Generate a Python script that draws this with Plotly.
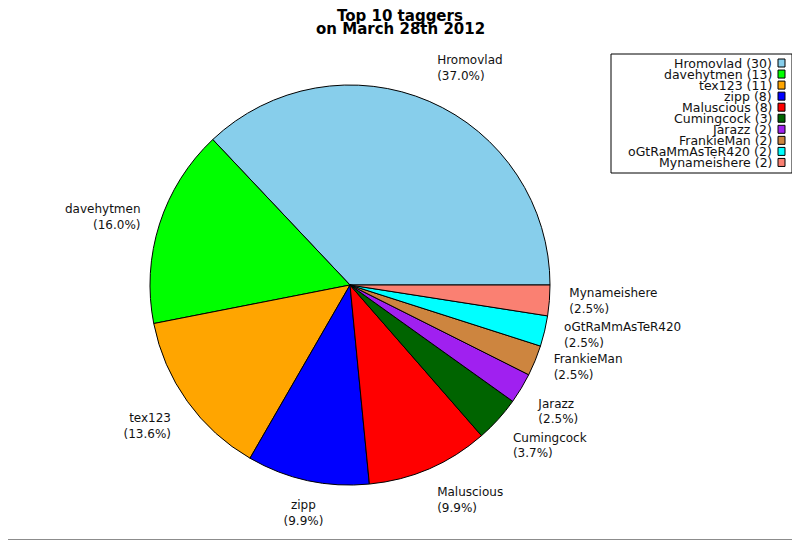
import math
import plotly.graph_objects as go

# top taggers, counts
names = ["Hromovlad", "davehytmen", "tex123", "zipp", "Maluscious",
         "Cumingcock", "Jarazz", "FrankieMan", "oGtRaMmAsTeR420", "Mynameishere"]
counts = [30, 13, 11, 8, 8, 3, 2, 2, 2, 2]
colors = ["#87CEEB", "#00FF00", "#FFA500", "#0000FF", "#FF0000",
          "#006400", "#A020F0", "#CD853F", "#00FFFF", "#FA8072"]
title_lines = ["Top 10 taggers", "on March 28th 2012"]

# the page body adds an 8px margin, so the figure is drawn 8px smaller
OFF = 8
W, H = 800 - OFF, 540 - OFF
font = "DejaVu Sans"


def X(sx):
    return (sx - OFF) / W


def Y(sy):
    return 1 - (sy - OFF) / H


total = sum(counts)
cx, cy, rad = 350, 285, 200
pie_dom = dict(x=[X(cx - rad), X(cx + rad)], y=[Y(cy + rad), Y(cy - rad)])

fig = go.Figure()
# counterclockwise from 3 o'clock
fig.add_trace(go.Pie(
    labels=names,
    values=counts,
    sort=False,
    direction="counterclockwise",
    rotation=90 - 360 * counts[0] / total,
    marker=dict(colors=colors, line=dict(color="black", width=1)),
    textinfo="none",
    hoverinfo="label+value+percent",
    showlegend=False,
    domain=pie_dom,
))

# slice labels at 1.1 x radius, anchored by side (polar overlay, rim = 1.2)
mids, positions, texts = [], [], []
cum = 0
for n, c in zip(names, counts):
    a = (cum + c / 2) / total * 360
    cum += c
    mids.append(a)
    ca, sa = math.cos(math.radians(a)), math.sin(math.radians(a))
    h = "right" if ca > 0.3 else ("left" if ca < -0.3 else "center")
    v = "top" if sa > 0.5 else ("bottom" if sa < -0.5 else "middle")
    positions.append(f"{v} {h}")
    texts.append(f"{n}<br>({c / total * 100:.1f}%)")

fig.add_trace(go.Scatterpolar(
    r=[1.1] * len(names), theta=mids, mode="text",
    text=texts, textposition=positions,
    textfont=dict(family=font, size=12, color="#111"),
    cliponaxis=False, hoverinfo="skip", showlegend=False,
))

prad = rad * 1.2
fig.update_layout(polar=dict(
    domain=dict(x=[X(cx - prad), X(cx + prad)], y=[Y(cy + prad), Y(cy - prad)]),
    bgcolor="rgba(0,0,0,0)",
    radialaxis=dict(range=[0, 1.2], visible=False),
    angularaxis=dict(visible=False, rotation=0, direction="counterclockwise"),
))

# outer frame (right and bottom fall inside the page)
shapes = [
    dict(type="line", xref="paper", yref="paper", x0=X(798.5), x1=X(798.5),
         y0=0, y1=1, line=dict(color="#8c8c8c", width=1)),
    dict(type="line", xref="paper", yref="paper", x0=0, x1=1,
         y0=Y(539.5), y1=Y(539.5), line=dict(color="#8c8c8c", width=1)),
]

# legend box: text right-aligned, swatch on the right
shapes.append(dict(type="rect", xref="paper", yref="paper",
                   x0=X(611), x1=X(792), y0=Y(173), y1=Y(54),
                   line=dict(color="black", width=1), fillcolor="white"))
annotations = []
row0, pitch = 63, 11.05
for i, (n, c, col) in enumerate(zip(names, counts, colors)):
    yc = row0 + i * pitch
    annotations.append(dict(
        x=X(773), y=Y(yc), xref="paper", yref="paper",
        xanchor="right", yanchor="middle", showarrow=False, borderpad=0,
        text=f"{n} ({c})", font=dict(family=font, size=12.5, color="#111"),
    ))
    shapes.append(dict(
        type="rect", xref="paper", yref="paper",
        x0=X(778), x1=X(785), y0=Y(yc + 4), y1=Y(yc - 4),
        fillcolor=col, line=dict(color="black", width=1),
    ))

# two-line bold title, tight line spacing
for txt, yc in zip(title_lines, [16, 28.5]):
    annotations.append(dict(
        x=X(400), y=Y(yc), xref="paper", yref="paper",
        xanchor="center", yanchor="middle", showarrow=False, borderpad=0,
        text=f"<b>{txt}</b>", font=dict(family=font, size=15, color="black"),
    ))

fig.update_layout(
    width=W, height=H,
    margin=dict(l=0, r=0, t=0, b=0),
    paper_bgcolor="white",
    plot_bgcolor="white",
    shapes=shapes,
    annotations=annotations,
)

fig.write_html("out.html")
